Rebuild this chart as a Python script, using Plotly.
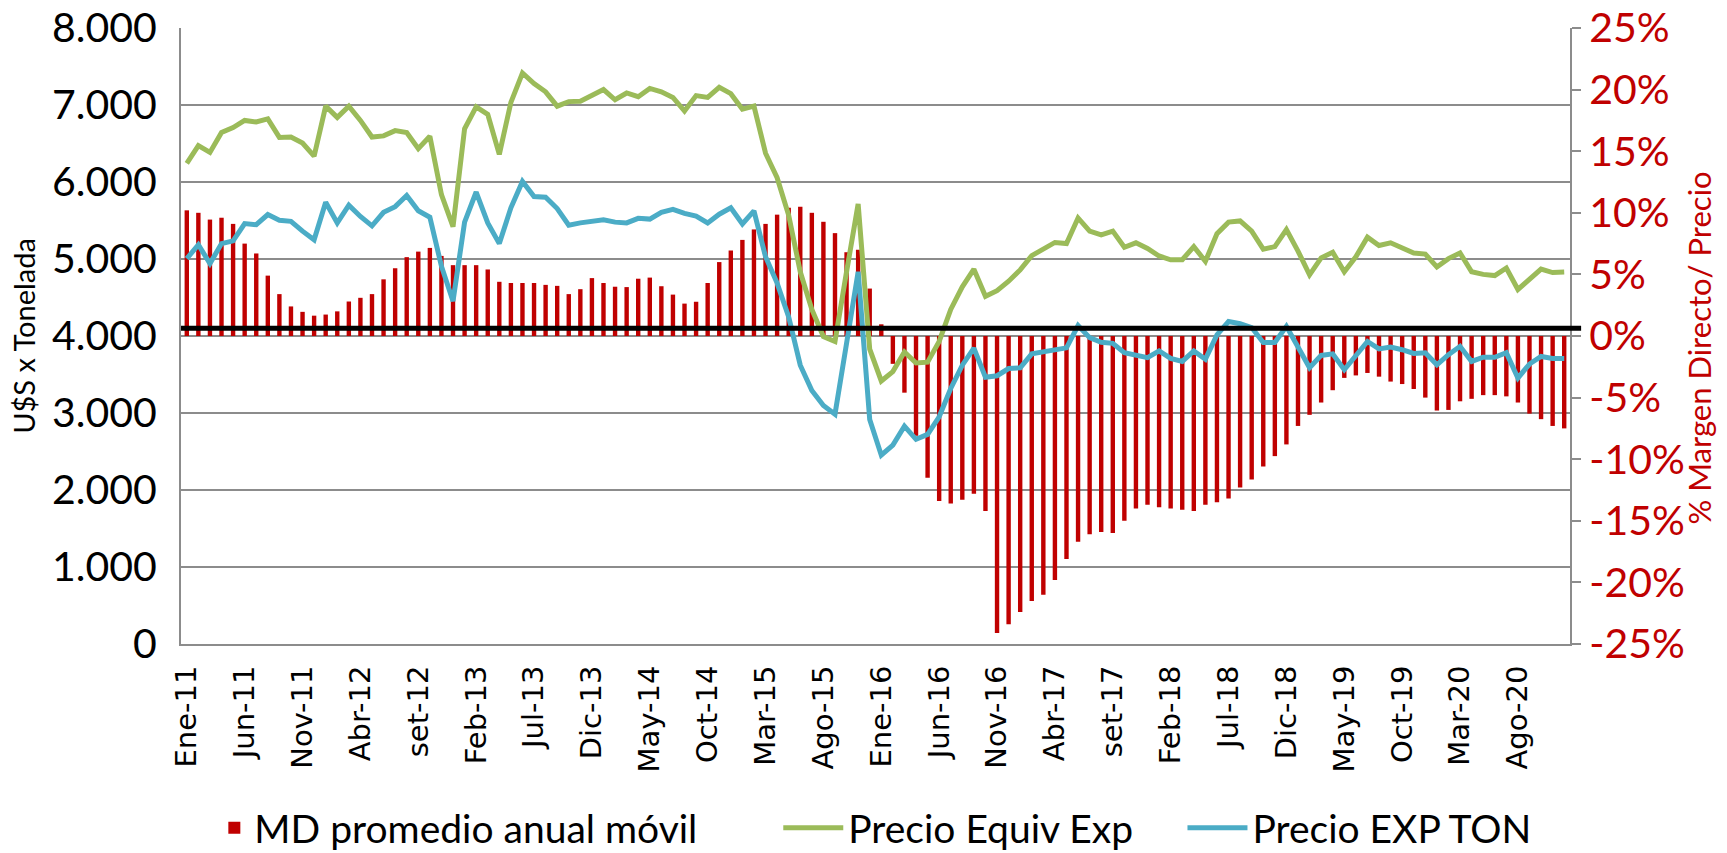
import plotly.graph_objects as go

months = ["Ene", "Feb", "Mar", "Abr", "May", "Jun", "Jul", "Ago", "set", "Oct", "Nov", "Dic"]
years = ["11", "12", "13", "14", "15", "16", "17", "18", "19", "20"]
categories = [f"{m}-{y}" for y in years for m in months]
tick_labels = categories[::5]

md_promedio = [
    10.2, 10.0, 9.45, 9.6, 9.1, 7.5, 6.7, 4.9, 3.4, 2.4, 1.96, 1.65, 1.74, 2.0, 2.8,
    3.1, 3.4, 4.6, 5.5, 6.4, 6.85, 7.15, 6.5, 5.75, 5.75, 5.75, 5.4, 4.4, 4.3, 4.3,
    4.3, 4.15, 4.07, 3.4, 3.8, 4.7, 4.3, 4.0, 3.97, 4.65, 4.74, 4.04, 3.36, 2.63, 2.78,
    4.3, 6.0, 6.94, 7.8, 8.65, 9.1, 9.85, 10.4, 10.5, 10.0, 9.27, 8.35, 6.8, 7.0, 3.85,
    0.95, -2.26, -4.6, -8.1, -11.5, -13.4, -13.6, -13.3, -12.8, -14.2, -24.1, -23.4, -22.4, -21.5, -21.0,
    -19.8, -18.1, -16.7, -16.1, -15.9, -16.0, -15.0, -14.0, -13.7, -13.9, -14.0, -14.1, -14.2, -13.7, -13.5,
    -13.2, -12.3, -11.65, -10.6, -9.75, -8.8, -7.3, -6.4, -5.4, -4.4, -3.4, -3.2, -3.0, -3.3, -3.7,
    -3.9, -4.3, -5.0, -6.05, -6.0, -5.3, -5.1, -4.8, -4.8, -4.9, -5.4, -6.3, -6.75, -7.3, -7.5,
]

precio_equiv_exp = [
    6242, 6472, 6384, 6643, 6707, 6800, 6780, 6819, 6579, 6584, 6506, 6335, 6985, 6839, 6985,
    6800, 6584, 6599, 6667, 6643, 6433, 6594, 5836, 5420, 6692, 6976, 6878, 6359, 7034, 7416,
    7279, 7171, 6985, 7044, 7049, 7122, 7200, 7068, 7156, 7108, 7215, 7171, 7098, 6922, 7122,
    7098, 7230, 7147, 6946, 6985, 6374, 6056, 5567, 4834, 4345, 3993, 3929, 4834, 5714, 3830,
    3416, 3538, 3792, 3650, 3660, 3929, 4345, 4638, 4868, 4516, 4589, 4711, 4858, 5044, 5127,
    5215, 5200, 5533, 5362, 5313, 5362, 5152, 5210, 5137, 5039, 4990, 4990, 5161, 4970, 5328,
    5479, 5494, 5362, 5127, 5161, 5381, 5103, 4795, 5015, 5088, 4834, 5029, 5284, 5176, 5210,
    5142, 5078, 5064, 4897, 5005, 5078, 4834, 4800, 4785, 4883, 4604, 4736, 4868, 4824, 4830,
]

precio_exp_ton = [
    5005, 5186, 4941, 5200, 5235, 5460, 5445, 5577, 5504, 5489, 5362, 5249, 5738, 5469, 5699,
    5553, 5430, 5606, 5680, 5826, 5626, 5543, 4907, 4452, 5479, 5870, 5469, 5200, 5665, 6007,
    5812, 5802, 5655, 5440, 5469, 5484, 5509, 5479, 5469, 5528, 5518, 5606, 5645, 5592, 5557,
    5469, 5582, 5665, 5455, 5626, 5029, 4687, 4247, 3621, 3293, 3098, 2985, 3905, 4834, 2915,
    2452, 2584, 2829, 2658, 2722, 2951, 3318, 3621, 3842, 3465, 3484, 3577, 3587, 3768, 3797,
    3832, 3846, 4135, 3978, 3919, 3905, 3783, 3758, 3719, 3807, 3709, 3670, 3807, 3699, 4015,
    4188, 4159, 4110, 3915, 3915, 4125, 3856, 3587, 3748, 3768, 3562, 3748, 3929, 3832, 3856,
    3822, 3773, 3783, 3626, 3758, 3866, 3670, 3724, 3724, 3783, 3455, 3636, 3734, 3709, 3709,
]

reference_level = 4100
pct_ticks = [-25, -20, -15, -10, -5, 0, 5, 10, 15, 20, 25]
pct_labels = [f"{v}%" for v in pct_ticks]

RED = "#C00000"
GREEN = "#9BBB59"
BLUE = "#4BACC6"
GRID = "#8C8C8C"
FONT = "Lato"

fig = go.Figure()
fig.add_trace(go.Bar(
    x=categories, y=md_promedio, name="MD promedio anual móvil",
    marker=dict(color=RED, line=dict(width=0)), yaxis="y", legend="legend",
    showlegend=True,
))
fig.add_trace(go.Scatter(
    x=categories, y=precio_equiv_exp, name="Precio Equiv Exp", mode="lines",
    line=dict(color=GREEN, width=5), yaxis="y2", legend="legend2",
))
fig.add_trace(go.Scatter(
    x=categories, y=precio_exp_ton, name="Precio EXP TON", mode="lines",
    line=dict(color=BLUE, width=5), yaxis="y2", legend="legend3",
))

fig.add_shape(type="line", xref="paper", x0=0, x1=1.008, yref="y2",
              y0=reference_level, y1=reference_level,
              line=dict(color="black", width=5), layer="above")

fig.add_annotation(text="% Margen Directo/ Precio", textangle=-90,
                   xref="paper", yref="paper", x=1.093, y=0.48,
                   xanchor="center", yanchor="middle", showarrow=False,
                   font=dict(family=FONT, size=31, color=RED))

legend_common = dict(orientation="h", yanchor="middle", y=-0.2985, xanchor="left",
                     font=dict(family=FONT, size=39, color="black"),
                     bgcolor="rgba(0,0,0,0)", itemwidth=30)

fig.update_layout(
    width=1727, height=853,
    margin=dict(l=181, r=157, t=28, b=209, autoexpand=False),
    paper_bgcolor="white", plot_bgcolor="white",
    separators=",.",
    bargap=0.62,
    showlegend=True,
    font=dict(family=FONT, color="black"),
    legend=dict(legend_common, x=0.024),
    legend2=dict(legend_common, x=0.43, itemwidth=60),
    legend3=dict(legend_common, x=0.721, itemwidth=60),
    xaxis=dict(
        type="category", categoryorder="array", categoryarray=categories,
        tickmode="array", tickvals=tick_labels, ticktext=tick_labels,
        tickangle=-90, tickfont=dict(family="DejaVu Sans", size=29, color="black"),
        showgrid=False, showline=True, linecolor=GRID, linewidth=2,
        ticks="", ticklabelstandoff=8, range=[-0.5, len(categories) - 0.5],
    ),
    yaxis=dict(
        side="right", range=[-25, 25], tickmode="array",
        tickvals=pct_ticks, ticktext=pct_labels,
        tickfont=dict(family=FONT, size=41, color=RED),
        showgrid=False, zeroline=False, showline=True, linecolor=GRID, linewidth=2,
        ticks="outside", ticklen=9, tickwidth=2, tickcolor=GRID, ticklabelstandoff=0,
    ),
    yaxis2=dict(
        overlaying="y", side="left", range=[0, 8000], dtick=1000, tickformat=",d",
        tickfont=dict(family=FONT, size=41, color="black"),
        showgrid=True, gridcolor=GRID, gridwidth=2, zeroline=False,
        showline=True, linecolor=GRID, linewidth=2, ticks="", ticklabelstandoff=14,
        title=dict(text="U$S x Tonelada", font=dict(family=FONT, size=29, color="black"), standoff=8),
    ),
)

fig.write_html("out.html", config={"displayModeBar": False},
               post_script="document.body.style.margin='0';")
